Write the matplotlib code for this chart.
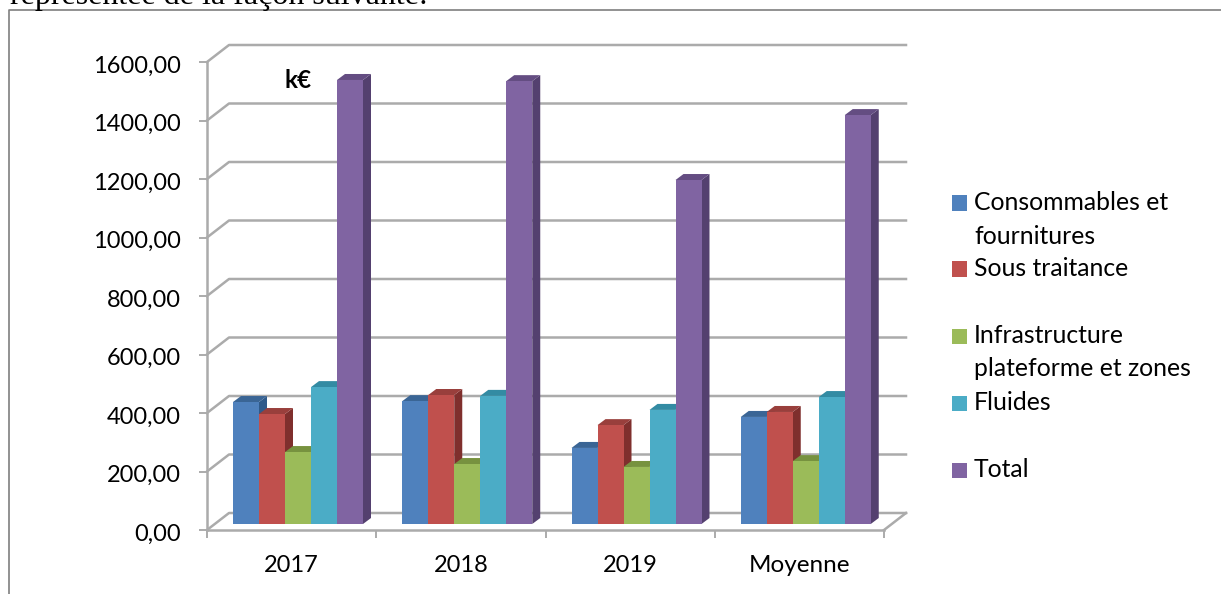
import matplotlib
matplotlib.use('Agg')
import matplotlib.pyplot as plt
from matplotlib.patches import Polygon, Rectangle
from matplotlib.transforms import ScaledTranslation

plt.rcParams['font.family'] = ['Lato', 'DejaVu Sans']

categories = ['2017', '2018', '2019', 'Moyenne']
consommables = [417, 420, 260, 366]
sous_traitance = [376, 441, 338, 383]
infrastructure = [246, 205, 195, 215]
fluides = [468, 438, 390, 434]
total = [1518, 1514, 1176, 1398]
y_ticks = [0, 200, 400, 600, 800, 1000, 1200, 1400, 1600]

series_names = ['Consommables et\nfournitures', 'Sous traitance',
                'Infrastructure\nplateforme et zones', 'Fluides', 'Total']
series = [consommables, sous_traitance, infrastructure, fluides, total]
front = ['#4f81bd', '#c0504d', '#9bbb59', '#4bacc6', '#8064a2']
top = ['#3a6595', '#993f3c', '#77923f', '#338ba3', '#644d82']
side = ['#2f5a8a', '#7f2f2d', '#6b8535', '#2b7a90', '#54406f']

W, H = 1221, 594
fig = plt.figure(figsize=(W / 100, H / 100), dpi=100)
ax = fig.add_axes([207 / W, (H - 530) / H, 677 / W, 468 / H])
ax.set_xlim(0, 4)
ax.set_ylim(0, 1600)
ax.patch.set_alpha(0)

# pixel sizes in data units
px = 4 / 677
py = 1600 / 468
wall_dx, wall_dy = 22 * px, 17 * py
bar_dx, bar_dy = 8 * px, 6 * py
bar_w = 26 * px
bar_start = 26 * px
base = 6 * py
grid_col = '#ababab'

# back wall + floor
for v in y_ticks:
    ax.plot([0, wall_dx, 4 + wall_dx], [v, v + wall_dy, v + wall_dy],
            color=grid_col, lw=1.8, clip_on=False, zorder=1)
ax.plot([4, 4 + wall_dx], [0, wall_dy], color=grid_col, lw=1.8, clip_on=False, zorder=1)

# 3d bars
z = 3
for c in range(len(categories)):
    for s in range(len(series)):
        v = series[s][c]
        x0 = c + bar_start + s * bar_w
        x1 = x0 + bar_w
        y1 = base + v
        ax.add_patch(Polygon([(x1, base), (x1 + bar_dx, base + bar_dy),
                              (x1 + bar_dx, y1 + bar_dy), (x1, y1)],
                             fc=side[s], ec='none', clip_on=False, zorder=z))
        ax.add_patch(Polygon([(x0, y1), (x0 + bar_dx, y1 + bar_dy),
                              (x1 + bar_dx, y1 + bar_dy), (x1, y1)],
                             fc=top[s], ec='none', clip_on=False, zorder=z))
        ax.bar(x0, v, bar_w, bottom=base, align='edge', color=front[s],
               clip_on=False, zorder=z + 0.5)
        z += 1

for name in ['top', 'right']:
    ax.spines[name].set_visible(False)
for name in ['left', 'bottom']:
    ax.spines[name].set_color(grid_col)
    ax.spines[name].set_linewidth(1.8)
    ax.spines[name].set_zorder(2)

ax.set_yticks(y_ticks)
ax.set_yticklabels(['%d,00' % v for v in y_ticks])
ax.set_xticks(range(5))
ax.set_xticklabels([])
ax.tick_params(axis='both', color=grid_col, width=1.4, length=5.5, labelsize=17,
               labelcolor='black')
ax.tick_params(axis='y', pad=13.5)
shift = ScaledTranslation(0, -2 / 100, fig.dpi_scale_trans)
for lab in ax.get_yticklabels():
    lab.set_transform(lab.get_transform() + shift)
for i, name in enumerate(categories):
    ax.annotate(name, (i + 0.5, 0), xytext=(0, -36), textcoords='offset pixels',
                ha='center', va='center', fontsize=17.5 if name == 'Moyenne' else 17,
                annotation_clip=False)

ax.annotate('k€', (0, 1600), xytext=(91, -19), textcoords='offset pixels',
            ha='center', va='center', fontsize=17.5, fontweight='bold',
            annotation_clip=False)

# legend drawn by hand because of the uneven rows
legend_rows = [203, 269, 336, 403, 470]
line_h = 33.5
for y, name, col in zip(legend_rows, series_names, front):
    fig.add_artist(Rectangle((952 / W, (H - y - 7.5) / H), 15 / W, 15 / H,
                             transform=fig.transFigure, fc=col, ec='none'))
    for i, line in enumerate(name.split('\n')):
        fig.text(974 / W, (H - y - 7 - i * line_h) / H, line, fontsize=17.8,
                 va='baseline', ha='left')

# page border and clipped paragraph line
fig.add_artist(plt.Line2D([9 / W, 9 / W, 1], [0, (H - 10) / H, (H - 10) / H],
                          transform=fig.transFigure, color='#7f7f7f', lw=1.2))
fig.text(10 / W, (H - 4) / H, 'représentée de la façon suivante:', fontsize=23,
         family='Liberation Serif', va='baseline', ha='left')

fig.savefig('out.png', dpi=100)
